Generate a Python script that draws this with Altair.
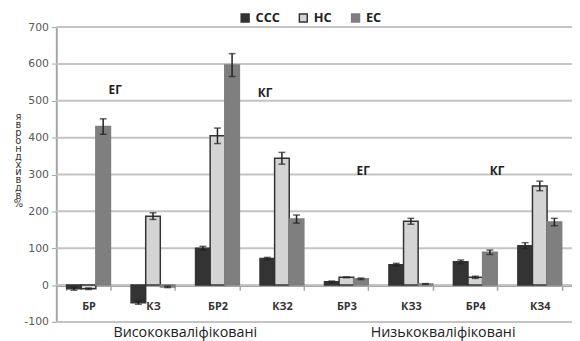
import altair as alt
import pandas as pd

categories = ["БР", "КЗ", "БР2", "КЗ2", "БР3", "КЗ3", "БР4", "КЗ4"]
series = ["ССС", "НС", "ЕС"]
ccc = [-10, -48, 100, 72, 9, 55, 63, 107]
ccc_err = [4, 4, 5, 3, 2, 4, 5, 8]
hc = [-10, 187, 405, 344, 21, 173, 21, 269]
hc_err = [2, 9, 21, 16, 1, 8, 3, 13]
ec = [430, -5, 597, 179, 17, 3, 89, 171]
ec_err = [21, 2, 31, 11, 2, 1, 6, 10]

group_labels = ["Висококваліфіковані", "Низькокваліфіковані"]
group_anchor = ["КЗ", "КЗ3"]
ann_labels = ["ЕГ", "КГ", "ЕГ", "КГ"]
ann_cats = ["БР", "КЗ2", "БР3", "БР4"]
ann_vals = [530, 521, 309, 309]
ann_dx = [27, -17, 17, 22]

y_title = ["я", "в", "р", "о", "н", "д", "х", "и", "в", "", "д", "в", "%"]
y_ticks = [-100, 0, 100, 200, 300, 400, 500, 600, 700]

colors = ["#333333", "#d4d4d4", "#7f7f7f"]
strokes = ["#333333", "#333333", "#7f7f7f"]

rows = []
for s, vals, errs in zip(series, [ccc, hc, ec], [ccc_err, hc_err, ec_err]):
    for c, v, e in zip(categories, vals, errs):
        rows.append({"cat": c, "series": s, "value": v, "lo": v - e, "hi": v + e})
df = pd.DataFrame(rows)

legend = alt.Legend(
    orient="none", legendX=185, legendY=-16, direction="horizontal", title=None,
    symbolType="square", symbolSize=64, symbolStrokeWidth=1.5,
    labelFont="Open Sans", labelFontSize=13, labelFontWeight="bold",
    labelColor="#222222", columnPadding=16, labelOffset=4,
)

x_axis = alt.Axis(
    offset=-37, domainColor="#a6a6a6", domainWidth=2, tickColor="#a6a6a6",
    tickSize=5, tickWidth=1.5, tickBand="extent", labelFont="Open Sans",
    labelFontWeight="bold", labelFontSize=11, labelColor="#333333",
    labelPadding=10, labelAngle=0, grid=False, title=None,
)
x_scale = alt.Scale(paddingInner=0.32, paddingOuter=0.16)
y_axis = alt.Axis(
    values=y_ticks, labelFont="DejaVu Sans", labelFontSize=11, labelOverlap=False,
    labelExpr="'' + datum.value",
    labelColor="#595959", tickColor="#a6a6a6", tickSize=5, domainColor="#a6a6a6",
    domainWidth=2, grid=False,
    labelPadding=3,
    title=y_title, titleAngle=0, titleX=-39, titleY=86, titleAlign="center",
    titleBaseline="top", titleFontSize=10, titleFontWeight="normal",
    titleLineHeight=8, titleColor="#333333", titleFont="DejaVu Sans",
)
y_scale = alt.Scale(domain=[-100, 700], nice=False)


def X():
    return alt.X("cat:N", sort=categories, scale=x_scale, axis=x_axis)


def Y(field):
    return alt.Y(field, scale=y_scale, axis=y_axis)


xoff = alt.XOffset("series:N", sort=series, scale=alt.Scale(paddingInner=0, paddingOuter=0))

grid = alt.Chart(pd.DataFrame({"value": y_ticks})).mark_rule(
    color="#c4c4c4", strokeWidth=2
).encode(
    y=Y("value:Q"),
)

bars = alt.Chart(df).mark_bar(strokeWidth=1.5).encode(
    x=X(),
    xOffset=xoff,
    y=Y("value:Q"),
    fill=alt.Fill("series:N", sort=series, scale=alt.Scale(domain=series, range=colors), legend=legend),
    stroke=alt.Stroke("series:N", sort=series, scale=alt.Scale(domain=series, range=strokes), legend=legend),
)

err_rule = alt.Chart(df).mark_rule(color="#222222", strokeWidth=1.5).encode(
    x=X(), xOffset=xoff, y=Y("lo:Q"), y2="hi:Q",
)
cap_lo = alt.Chart(df).mark_tick(color="#222222", size=7, thickness=1.5).encode(
    x=X(), xOffset=xoff, y=Y("lo:Q"),
)
cap_hi = alt.Chart(df).mark_tick(color="#222222", size=7, thickness=1.5).encode(
    x=X(), xOffset=xoff, y=Y("hi:Q"),
)

layers = [grid, bars, err_rule, cap_lo, cap_hi]

for lab, c, v, d in zip(ann_labels, ann_cats, ann_vals, ann_dx):
    layers.append(
        alt.Chart(pd.DataFrame({"cat": [c], "value": [v], "t": [lab]})).mark_text(
            font="Open Sans", fontSize=12, fontWeight="bold", color="#222222",
            dx=d, baseline="middle", align="center",
        ).encode(x=X(), y=Y("value:Q"), text="t:N")
    )

gdf = pd.DataFrame({"cat": group_anchor, "value": [-100, -100], "t": group_labels})
layers.append(
    alt.Chart(gdf).mark_text(
        font="Open Sans", fontSize=14.5, color="#222222", dx=32.7, dy=11,
        baseline="middle", align="center",
    ).encode(x=X(), y=Y("value:Q"), text="t:N")
)

chart = alt.layer(*layers).properties(
    width=523, height=299,
    autosize=alt.AutoSizeParams(type="none"),
    padding={"left": 49, "top": 17, "right": 0, "bottom": 17},
).configure_view(stroke=None)

chart.save("out.html", embed_options={"renderer": "svg", "actions": False})
